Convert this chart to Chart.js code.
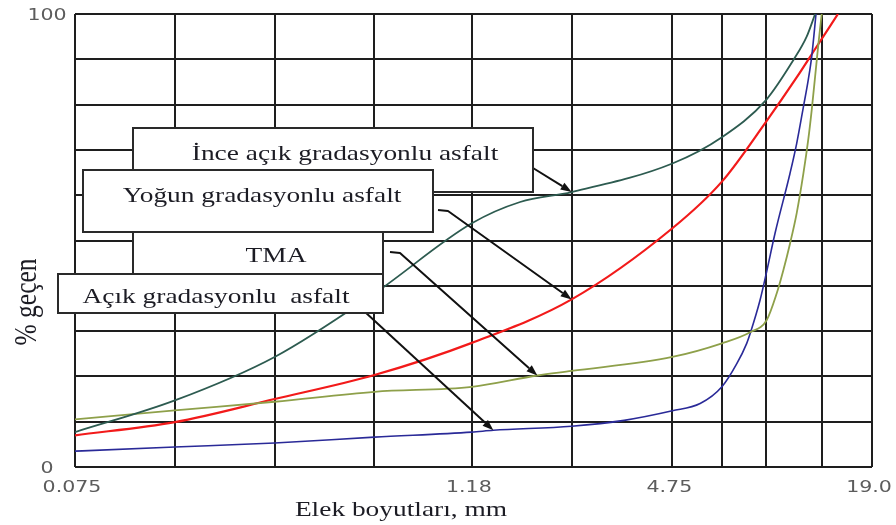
<!DOCTYPE html>
<html lang="tr">
<head>
<meta charset="utf-8">
<title>Gradasyon eğrileri</title>
<script src="https://cdn.jsdelivr.net/npm/chart.js@4.4.1/dist/chart.umd.min.js"></script>
<style>
  html, body { margin: 0; padding: 0; background: #ffffff; }
  canvas { display: block; }
</style>
</head>
<body>
<canvas id="grad" width="896" height="525" style="width:896px;height:525px"></canvas>
<script>
// Sieve sizes (mm) used for the vertical grid lines
const gridSizes = [0.075, 0.15, 0.3, 0.6, 1.18, 2.36, 4.75, 6.7, 9.1, 13.4, 19.0];
const xTickValues = [0.075, 1.18, 4.75, 19.0];
const xTickLabels = ['0.075', '1.18', '4.75', '19.0'];
const yTickValues = [0, 100];
const yTickLabels = ['0', '100'];

// İnce açık gradasyonlu asfalt
const inceSizes  = [0.075, 0.15, 0.3, 0.6, 1.18, 1.65, 2.36, 4.75, 6.7, 9.1, 11.0, 12.07, 12.8];
const inceValues = [7.7, 14.7, 24.3, 38.3, 53.8, 58.5, 60.7, 67.0, 72.8, 81.0, 89.8, 95.0, 100];

// Yoğun gradasyonlu asfalt
const yogunSizes  = [0.075, 0.15, 0.3, 0.6, 1.18, 2.36, 4.75, 6.7, 9.1, 11.26, 12.6, 15.0];
const yogunValues = [7.0, 9.9, 15.0, 20.3, 27.4, 37.0, 52.7, 63.0, 76.2, 86.0, 91.5, 100];

// TMA
const tmaSizes  = [0.075, 0.15, 0.3, 0.6, 1.18, 1.86, 2.36, 4.75, 6.7, 8.18, 9.14, 9.8, 10.27, 10.75, 11.26, 11.8, 12.2, 12.5, 12.8, 13.1, 13.4];
const tmaValues = [10.5, 12.5, 14.4, 16.6, 17.7, 20.2, 21.2, 24.3, 27.3, 29.8, 32.4, 38.3, 43.5, 49.3, 56.0, 64.8, 72.2, 78.8, 86.2, 93.5, 100];

// Açık gradasyonlu asfalt
const acikSizes  = [0.075, 0.15, 0.3, 0.6, 1.18, 1.37, 2.36, 3.4, 4.75, 5.76, 6.7, 7.43, 7.96, 8.18, 8.73, 9.14, 9.69, 10.75, 11.26, 11.8, 12.2, 12.5, 12.88];
const acikValues = [3.5, 4.4, 5.3, 6.6, 7.7, 8.1, 9.0, 10.3, 12.4, 14.0, 17.7, 22.8, 27.3, 29.8, 36.8, 43.1, 51.6, 64.8, 71.4, 79.5, 85.4, 90.6, 100];

const series = {
  ince:  { sizes: inceSizes,  values: inceValues,  color: '#2d5b50', width: 1.8 },
  tma:   { sizes: tmaSizes,   values: tmaValues,   color: '#8ea04a', width: 1.8 },
  acik:  { sizes: acikSizes,  values: acikValues,  color: '#2a2a98', width: 1.6 },
  yogun: { sizes: yogunSizes, values: yogunValues, color: '#f21a1a', width: 2.2 }
};

// Label boxes with leader arrows (box rectangle, arrow path start, target curve point)
const callouts = [
  { text: 'İnce açık gradasyonlu asfalt', box: [133, 128, 400, 64], textX: 345, textY: 160,
    path: [[533, 168]], series: 'ince', size: 2.36 },
  { text: 'Yoğun gradasyonlu asfalt', box: [83, 170, 350, 62], textX: 262, textY: 202,
    path: [[438, 210], [448, 211]], series: 'yogun', size: 2.36 },
  { text: 'TMA', box: [133, 232, 250, 42], textX: 276, textY: 262,
    path: [[390, 252], [400, 253]], series: 'tma', size: 1.86 },
  { text: 'Açık gradasyonlu  asfalt', box: [58, 274, 325, 39], textX: 216, textY: 303,
    path: [[352, 300]], series: 'acik', size: 1.37 }
];

const SERIF = '"Liberation Serif", "Times New Roman", serif';
const SANS = '"DejaVu Sans", Verdana, sans-serif';
const STRETCH = 1.245;

function stretchedText(ctx, text, cx, cy, font, color, align) {
  ctx.save();
  ctx.font = font;
  ctx.fillStyle = color;
  ctx.textAlign = align || 'center';
  ctx.textBaseline = 'alphabetic';
  ctx.translate(cx, cy);
  ctx.scale(STRETCH, 1);
  ctx.fillText(text, 0, 0);
  ctx.restore();
}

function drawArrow(ctx, pts) {
  ctx.save();
  ctx.strokeStyle = '#111';
  ctx.fillStyle = '#111';
  ctx.lineWidth = 2;
  ctx.lineJoin = 'round';
  const n = pts.length;
  const [tx, ty] = pts[n - 1];
  const [px, py] = pts[n - 2];
  const ang = Math.atan2(ty - py, tx - px);
  const len = 11, half = 4;
  const bx = tx - Math.cos(ang) * len, by = ty - Math.sin(ang) * len;
  ctx.beginPath();
  ctx.moveTo(pts[0][0], pts[0][1]);
  for (let i = 1; i < n - 1; i++) ctx.lineTo(pts[i][0], pts[i][1]);
  ctx.lineTo(bx, by);
  ctx.stroke();
  ctx.beginPath();
  ctx.moveTo(tx, ty);
  ctx.lineTo(bx - Math.sin(ang) * half, by + Math.cos(ang) * half);
  ctx.lineTo(bx + Math.sin(ang) * half, by - Math.cos(ang) * half);
  ctx.closePath();
  ctx.fill();
  ctx.restore();
}

const overlay = {
  id: 'overlay',
  afterDatasetsDraw(chart) {
    const { ctx } = chart;
    const xs = chart.scales.x, ys = chart.scales.y;

    // leader arrows to the curves
    callouts.forEach(c => {
      const s = series[c.series];
      const i = s.sizes.indexOf(c.size);
      const tip = [xs.getPixelForValue(c.size), ys.getPixelForValue(s.values[i])];
      drawArrow(ctx, c.path.concat([tip]));
    });

    // label boxes
    callouts.forEach(c => {
      const [bx, by, bw, bh] = c.box;
      ctx.save();
      ctx.fillStyle = '#ffffff';
      ctx.fillRect(bx, by, bw, bh);
      ctx.strokeStyle = '#2a2a2a';
      ctx.lineWidth = 2;
      ctx.strokeRect(bx, by, bw, bh);
      ctx.restore();
      stretchedText(ctx, c.text, c.textX, c.textY, '22px ' + SERIF, '#1c1c24');
    });
  },
  afterDraw(chart) {
    const { ctx } = chart;
    const xs = chart.scales.x, ys = chart.scales.y;

    // axis tick labels
    xTickValues.forEach((v, i) => {
      stretchedText(ctx, xTickLabels[i], xs.getPixelForValue(v) - 3, 492, '16.5px ' + SANS, '#5c5c5c');
    });
    yTickValues.forEach((v, i) => {
      stretchedText(ctx, yTickLabels[i], 47, ys.getPixelForValue(v) + 6, '16.5px ' + SANS, '#5c5c5c');
    });

    // axis titles
    stretchedText(ctx, 'Elek boyutları, mm', 401, 516, '22px ' + SERIF, '#1c1c24');
    ctx.save();
    ctx.font = '25.5px ' + SERIF;
    ctx.fillStyle = '#1c1c24';
    ctx.textAlign = 'center';
    ctx.textBaseline = 'alphabetic';
    ctx.translate(36, 302);
    ctx.scale(STRETCH, 1);
    ctx.rotate(-Math.PI / 2);
    ctx.fillText('% geçen', 0, 0);
    ctx.restore();
  }
};

const gridStyle = { color: '#1e1e1e', lineWidth: 2, drawTicks: false };

new Chart(document.getElementById('grad'), {
  type: 'line',
  data: {
    datasets: Object.keys(series).map(k => {
      const s = series[k];
      return {
        label: k,
        data: s.sizes.map((sz, i) => ({ x: sz, y: s.values[i] })),
        borderColor: s.color,
        borderWidth: s.width,
        pointRadius: 0,
        fill: false,
        cubicInterpolationMode: 'monotone'
      };
    })
  },
  options: {
    responsive: false,
    animation: false,
    events: [],
    layout: { padding: { left: 75, right: 24, top: 14, bottom: 58 } },
    plugins: { legend: { display: false }, tooltip: { enabled: false } },
    scales: {
      x: {
        type: 'logarithmic',
        min: 0.075,
        max: 19,
        afterBuildTicks: s => { s.ticks = gridSizes.map(v => ({ value: v })); },
        afterFit: s => { s.height = 0; },
        ticks: { display: false },
        grid: gridStyle,
        border: { display: false }
      },
      y: {
        type: 'linear',
        min: 0,
        max: 100,
        afterFit: s => { s.width = 0; },
        ticks: { display: false, stepSize: 10 },
        grid: gridStyle,
        border: { display: false }
      }
    }
  },
  plugins: [overlay]
});
</script>
</body>
</html>
